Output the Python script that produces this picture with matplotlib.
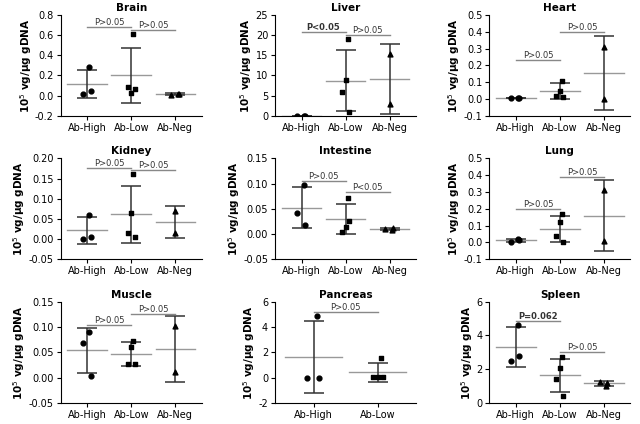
import numpy as np
import matplotlib.pyplot as plt

groups = ["Ab-High", "Ab-Low", "Ab-Neg"]
markers = ["o", "s", "^"]

titles = ["Brain", "Liver", "Heart", "Kidney", "Intestine", "Lung", "Muscle", "Pancreas", "Spleen"]
values = [
    [[0.28, 0.02, 0.05], [0.61, 0.03, 0.09, 0.07], [0.02, 0.01, 0.02]],
    [[0.0, 0.0, 0.0], [19, 9, 6, 1], [15.3, 3]],
    [[0.005, 0.005, 0.005], [0.11, 0.05, 0.02, 0.01], [0.31, 0.0]],
    [[0.06, 0.0, 0.005], [0.16, 0.065, 0.015, 0.005], [0.07, 0.015]],
    [[0.097, 0.042, 0.017], [0.072, 0.015, 0.005, 0.025], [0.008, 0.011, 0.012]],
    [[0.02, 0.005, 0.015], [0.17, 0.12, 0.04, 0.0], [0.31, 0.01]],
    [[0.09, 0.068, 0.003], [0.072, 0.06, 0.026, 0.027], [0.103, 0.01]],
    [[4.9, 0.0, 0.0], [1.55, 0.05, 0.05, 0.05]],
    [[4.65, 2.5, 2.75], [2.7, 2.05, 1.4, 0.4], [1.0, 1.25, 1.2]],
]
ylims = [(-0.2, 0.8, 0.2), (0, 25, 5), (-0.1, 0.5, 0.1), (-0.05, 0.2, 0.05), (-0.05, 0.15, 0.05),
         (-0.1, 0.5, 0.1), (-0.05, 0.15, 0.05), (-2, 6, 2), (0, 6, 2)]
ydec = [1, 0, 1, 2, 2, 1, 2, 0, 0]
# (from group, to group, y, label, bold)
comps = [
    [(0, 1, 0.68, "P>0.05", False), (1, 2, 0.65, "P>0.05", False)],
    [(0, 1, 20.7, "P<0.05", True), (1, 2, 20.0, "P>0.05", False)],
    [(0, 1, 0.23, "P>0.05", False), (1, 2, 0.40, "P>0.05", False)],
    [(0, 1, 0.175, "P>0.05", False), (1, 2, 0.17, "P>0.05", False)],
    [(0, 1, 0.106, "P>0.05", False), (1, 2, 0.083, "P<0.05", False)],
    [(0, 1, 0.20, "P>0.05", False), (1, 2, 0.39, "P>0.05", False)],
    [(0, 1, 0.105, "P>0.05", False), (1, 2, 0.125, "P>0.05", False)],
    [(0, 1, 5.2, "P>0.05", False)],
    [(0, 1, 4.85, "P=0.062", True), (1, 2, 3.0, "P>0.05", False)],
]
offs = {3: [0.05, -0.1, 0.08], 4: [0.05, 0.0, -0.08, 0.08], 2: [0.0, 0.0]}

fig, axs = plt.subplots(3, 3, figsize=(6.4, 4.24), dpi=100)
plt.subplots_adjust(left=0.095, right=0.985, top=0.965, bottom=0.05, wspace=0.52, hspace=0.42)
for k, ax in enumerate(axs.flat):
    data = values[k]
    for g, pts in enumerate(data):
        pts = np.array(pts)
        m, sd = pts.mean(), pts.std(ddof=1)
        ax.plot([g - 0.45, g + 0.45], [m, m], color="#999999", lw=1)
        ax.errorbar(g, m, yerr=sd, color="#333333", capsize=7, lw=1.1, capthick=1.1)
        ax.scatter(g + np.array(offs[len(pts)]), pts, marker=markers[g], s=12, color="black", zorder=3)
    for a, b, y, lab, bold in comps[k]:
        ax.plot([a, b], [y, y], color="#888888", lw=1)
        ax.text((a + b) / 2, y, lab, ha="center", va="bottom", fontsize=6,
                fontweight="bold" if bold else "normal", color="#333333")
    lo, hi, st = ylims[k]
    ax.set_ylim(lo, hi)
    ax.set_yticks(np.arange(lo, hi + st / 2, st))
    ax.set_yticklabels([f"{v:.{ydec[k]}f}" for v in np.arange(lo, hi + st / 2, st)], fontsize=7)
    ax.set_xticks(range(len(data)))
    ax.set_xticklabels(groups[:len(data)], fontsize=7)
    ax.set_xlim(-0.6, len(data) - 0.4)
    ax.set_title(titles[k], fontsize=7.5, fontweight="bold", pad=3)
    ax.set_ylabel("10$^5$ vg/µg gDNA", fontsize=7.5, fontweight="bold", labelpad=1)
    ax.spines["top"].set_visible(False)
    ax.spines["right"].set_visible(False)
    ax.tick_params(length=3, pad=2)

plt.savefig("out.png")
